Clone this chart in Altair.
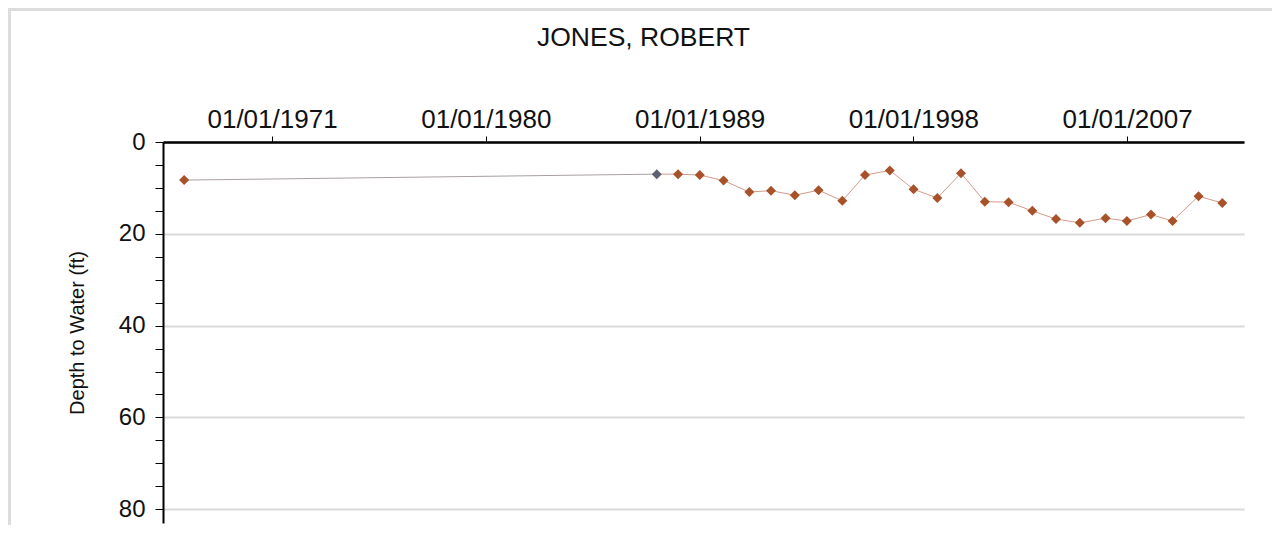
import altair as alt
import pandas as pd

# ---- data ----
dates = [
    "1967-04-20", "1987-03-15", "1988-02-05", "1989-01-05", "1990-01-05",
    "1991-02-05", "1992-01-05", "1993-01-05", "1994-01-05", "1995-01-05",
    "1995-12-20", "1997-01-05", "1998-01-05", "1999-01-05", "2000-01-05",
    "2001-01-05", "2002-01-05", "2003-01-05", "2004-01-05", "2005-01-05",
    "2006-02-05", "2006-12-30", "2008-01-05", "2008-12-01", "2010-01-05",
    "2011-01-05",
]
depth = [
    8.3, 7.0, 7.0, 7.2, 8.4,
    10.9, 10.6, 11.6, 10.5, 12.8,
    7.2, 6.2, 10.3, 12.2, 6.8,
    13.0, 13.1, 15.0, 16.8, 17.6,
    16.6, 17.2, 15.8, 17.2, 11.8,
    13.3,
]
kind = ["A", "B"] + ["A"] * 24
x_ticks = ["1971", "1980", "1989", "1998", "2007"]
y_ticks = list(range(0, 81, 5))
title_text = "JONES, ROBERT"
y_title = "Depth to Water (ft)"

df = pd.DataFrame({"date": dates, "depth": depth, "kind": kind})
df_early = df.iloc[:2]
df_late = df.iloc[1:]

FONT = "Liberation Sans"

x_enc = alt.X(
    "date:T",
    scale=alt.Scale(
        type="utc",
        domain=[alt.DateTime(year=1966, month=5, date=30, utc=True),
                alt.DateTime(year=2011, month=12, date=5, utc=True)],
    ),
    axis=alt.Axis(
        orient="top",
        values=[alt.DateTime(year=int(y), month=1, date=1, utc=True) for y in x_ticks],
        format="%m/%d/%Y",
        labelFont=FONT,
        labelFontSize=26,
        labelColor="#111111",
        labelPadding=4,
        tickSize=6,
        tickColor="#000000",
        tickWidth=1,
        domainColor="#000000",
        domainWidth=2.5,
        grid=False,
        title=None,
    ),
)

y_enc = alt.Y(
    "depth:Q",
    scale=alt.Scale(domain=[0, 83], reverse=True, nice=False, zero=False),
    axis=alt.Axis(
        orient="left",
        values=y_ticks,
        labelExpr="datum.value % 20 === 0 ? datum.label : ''",
        labelFont=FONT,
        labelFontSize=24,
        labelColor="#111111",
        labelPadding=10,
        tickSize=8,
        tickColor="#000000",
        tickWidth=1,
        domainColor="#000000",
        domainWidth=2,
        grid=True,
        gridColor="#d9d9d9",
        gridWidth=2,
        gridOpacity={"condition": {"test": "datum.value % 20 === 0", "value": 1}, "value": 0},
        title=y_title,
        titleFont=FONT,
        titleFontSize=20,
        titleFontWeight="normal",
        titleColor="#111111",
        titleX=-76,
    ),
)

frame_data = alt.Data(values=[{}])
frame_left = alt.Chart(frame_data).mark_rule(
    color="#dcdcdc", strokeWidth=3, clip=False
).encode(x=alt.value(-153.5), y=alt.value(-134), y2=alt.value(390))
frame_top = alt.Chart(frame_data).mark_rule(
    color="#dcdcdc", strokeWidth=3, clip=False
).encode(x=alt.value(-155), x2=alt.value(1120), y=alt.value(-132.5))

line_early = alt.Chart(df_early).mark_line(color="#a8a0a0", strokeWidth=1).encode(x=x_enc, y=y_enc)
line_late = alt.Chart(df_late).mark_line(color="#d49a8a", strokeWidth=1).encode(x=x_enc, y=y_enc)
points = alt.Chart(df).mark_point(shape="diamond", filled=True, size=100, opacity=1).encode(
    x=x_enc,
    y=y_enc,
    color=alt.Color("kind:N", scale=alt.Scale(domain=["A", "B"], range=["#a8522a", "#5c6070"]), legend=None),
)

chart = alt.layer(frame_left, frame_top, line_early, line_late, points).properties(
    width=1081,
    height=381,
    padding={"left": 155, "top": 134, "right": 28, "bottom": 2},
    autosize=alt.AutoSizeParams(type="none"),
    background="white",
    view=alt.ViewBackground(strokeOpacity=0, strokeWidth=0),
    title=alt.TitleParams(
        title_text, font=FONT, fontSize=26.5, fontWeight="normal", color="#111111",
        anchor="middle", dx=-60, offset=0, dy=45,
    ),
).configure_view(strokeOpacity=0, strokeWidth=0)

chart.save("out.html", embed_options={"renderer": "svg", "actions": False})
